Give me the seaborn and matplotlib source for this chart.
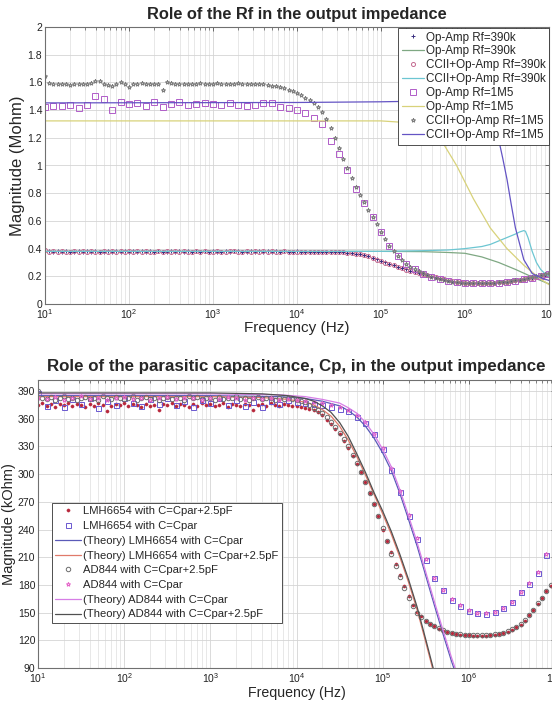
import numpy as np
import pandas as pd
import matplotlib
matplotlib.use("Agg")
import matplotlib.pyplot as plt
import matplotlib.ticker as mticker
import seaborn as sns

# ---------------- DATA: top chart (Mohm) ----------------
f20 = np.logspace(1, 7, 121)   # measurement sweep, 20 pts / decade
f10 = np.logspace(1, 7, 61)    # measurement sweep, 10 pts / decade

opamp390_pts = [
    0.385, 0.381, 0.378, 0.380, 0.377, 0.382, 0.379, 0.376, 0.381, 0.378,
    0.380, 0.377, 0.383, 0.379, 0.376, 0.381, 0.378, 0.382, 0.377, 0.380,
    0.379, 0.382, 0.376, 0.380, 0.378, 0.381, 0.377, 0.383, 0.379, 0.376,
    0.381, 0.378, 0.380, 0.377, 0.382, 0.379, 0.381, 0.376, 0.380, 0.378,
    0.382, 0.379, 0.377, 0.381, 0.378, 0.380, 0.383, 0.377, 0.379, 0.381,
    0.378, 0.380, 0.377, 0.382, 0.379, 0.381, 0.378, 0.380, 0.379, 0.378,
    0.380, 0.379, 0.378, 0.379, 0.378, 0.377, 0.377, 0.376, 0.375, 0.374,
    0.375, 0.373, 0.371, 0.368, 0.364, 0.359, 0.352, 0.344, 0.333, 0.322,
    0.311, 0.300, 0.290, 0.280, 0.270, 0.260, 0.250, 0.241, 0.232, 0.224,
    0.216, 0.208, 0.200, 0.192, 0.185, 0.178, 0.172, 0.166, 0.161, 0.157,
    0.154, 0.151, 0.150, 0.149, 0.149, 0.150, 0.151, 0.153, 0.155, 0.158,
    0.161, 0.165, 0.169, 0.174, 0.179, 0.185, 0.191, 0.197, 0.204, 0.211,
    0.218]

ccii390_pts = [
    0.392, 0.378, 0.381, 0.376, 0.380, 0.377, 0.379, 0.382, 0.376, 0.380,
    0.378, 0.381, 0.376, 0.379, 0.382, 0.377, 0.380, 0.376, 0.381, 0.378,
    0.380, 0.377, 0.381, 0.378, 0.382, 0.376, 0.379, 0.380, 0.377, 0.381,
    0.378, 0.380, 0.376, 0.381, 0.379, 0.377, 0.382, 0.378, 0.380, 0.377,
    0.379, 0.381, 0.378, 0.376, 0.380, 0.382, 0.377, 0.379, 0.381, 0.378,
    0.380, 0.377, 0.381, 0.378, 0.380, 0.379, 0.377, 0.380, 0.378, 0.379,
    0.379, 0.378, 0.379, 0.377, 0.378, 0.376, 0.376, 0.375, 0.374, 0.373,
    0.374, 0.372, 0.370, 0.367, 0.363, 0.358, 0.351, 0.343, 0.332, 0.321,
    0.310, 0.299, 0.289, 0.279, 0.269, 0.259, 0.249, 0.240, 0.231, 0.223,
    0.215, 0.207, 0.199, 0.192, 0.185, 0.178, 0.172, 0.167, 0.162, 0.158,
    0.155, 0.152, 0.150, 0.150, 0.149, 0.150, 0.152, 0.153, 0.156, 0.158,
    0.162, 0.165, 0.170, 0.174, 0.180, 0.185, 0.191, 0.198, 0.205, 0.212,
    0.220]

ccii1m5_pts = [
    1.645, 1.595, 1.588, 1.592, 1.585, 1.590, 1.583, 1.588, 1.592, 1.586,
    1.590, 1.594, 1.612, 1.608, 1.585, 1.580, 1.572, 1.590, 1.600, 1.592,
    1.566, 1.590, 1.588, 1.594, 1.586, 1.590, 1.592, 1.585, 1.545, 1.600,
    1.598, 1.590, 1.588, 1.592, 1.585, 1.590, 1.586, 1.593, 1.588, 1.591,
    1.590, 1.594, 1.588, 1.592, 1.586, 1.590, 1.593, 1.588, 1.591, 1.589,
    1.590, 1.588, 1.585, 1.582, 1.577, 1.572, 1.565, 1.557, 1.548, 1.537,
    1.524, 1.508, 1.490, 1.470, 1.448, 1.420, 1.383, 1.335, 1.270, 1.200,
    1.125, 1.050, 0.980, 0.910, 0.848, 0.790, 0.733, 0.680, 0.628, 0.575,
    0.522, 0.470, 0.422, 0.380, 0.345, 0.315, 0.290, 0.268, 0.250, 0.235,
    0.221, 0.208, 0.197, 0.188, 0.180, 0.173, 0.167, 0.162, 0.158, 0.155,
    0.152, 0.150, 0.149, 0.149, 0.149, 0.150, 0.151, 0.153, 0.156, 0.159,
    0.162, 0.166, 0.170, 0.175, 0.180, 0.186, 0.192, 0.199, 0.206, 0.213,
    0.221]

opamp1m5_sq = [
    1.420, 1.432, 1.428, 1.435, 1.418, 1.440, 1.502, 1.482, 1.398, 1.455,
    1.447, 1.452, 1.430, 1.458, 1.424, 1.445, 1.460, 1.438, 1.442, 1.450,
    1.447, 1.438, 1.452, 1.440, 1.432, 1.436, 1.448, 1.452, 1.425, 1.418,
    1.400, 1.378, 1.345, 1.300, 1.175, 1.080, 0.970, 0.830, 0.730, 0.630,
    0.520, 0.420, 0.350, 0.290, 0.250, 0.220, 0.195, 0.178, 0.166, 0.158,
    0.153, 0.150, 0.149, 0.151, 0.155, 0.161, 0.169, 0.178, 0.190, 0.204,
    0.219]

# theory / simulated curves (top)
f_green = 10 ** np.array([1.0, 5.0, 5.5, 5.8, 6.0, 6.2, 6.4, 6.6, 6.8, 7.0])
opamp390_line = [0.380, 0.380, 0.378, 0.372, 0.366, 0.340, 0.300, 0.250, 0.195, 0.145]

f_cyan = 10 ** np.array([1.0, 5.0, 5.5, 5.8, 6.0, 6.2, 6.3, 6.4, 6.5, 6.6, 6.65, 6.7,
                         6.72, 6.75, 6.8, 6.85, 6.9, 6.95, 7.0])
ccii390_line = [0.380, 0.380, 0.385, 0.390, 0.400, 0.415, 0.430, 0.455, 0.480, 0.505,
                0.520, 0.530, 0.525, 0.480, 0.380, 0.300, 0.250, 0.220, 0.200]

f_yellow = 10 ** np.array([1.0, 5.0, 5.3, 5.5, 5.7, 5.9, 6.1, 6.3, 6.5, 6.7, 6.9, 7.0])
opamp1m5_line = [1.322, 1.322, 1.310, 1.280, 1.200, 1.000, 0.760, 0.550, 0.400, 0.280,
                 0.180, 0.140]

f_violet = 10 ** np.array([1.0, 4.0, 5.0, 5.5, 6.0, 6.2, 6.3, 6.35, 6.4, 6.45, 6.5,
                           6.55, 6.6, 6.7, 6.8, 6.9, 7.0])
ccii1m5_line = [1.452, 1.455, 1.460, 1.465, 1.465, 1.450, 1.380, 1.300, 1.190, 1.050,
                0.900, 0.720, 0.550, 0.320, 0.220, 0.190, 0.170]

top_labels = ["Op-Amp Rf=390k", "Op-Amp Rf=390k", "CCII+Op-Amp Rf=390k",
              "CCII+Op-Amp Rf=390k", "Op-Amp Rf=1M5", "Op-Amp Rf=1M5",
              "CCII+Op-Amp Rf=1M5", "CCII+Op-Amp Rf=1M5"]

# ---------------- DATA: bottom chart (kOhm) ----------------
lmh_c25_dots = [
    375, 377, 374, 376, 373, 376, 375, 377, 374, 376,
    375, 373, 376, 374, 377, 375, 368, 374, 376, 375,
    377, 374, 376, 375, 373, 376, 374, 375, 369, 376,
    375, 377, 374, 376, 375, 373, 376, 374, 377, 375,
    376, 374, 375, 377, 373, 376, 375, 374, 376, 375,
    369, 375, 376, 374, 377, 375, 374, 376, 375, 374,
    374, 373, 372, 371, 370, 367, 364, 359, 354, 349,
    343, 336, 328, 320, 311, 302, 292, 280, 268, 255,
    240, 228, 216, 203, 191, 179, 168, 158, 151, 146,
    141, 138, 135, 132, 130, 129, 128, 127, 126, 126,
    125.5, 125, 125, 125, 125, 125.5, 126, 127, 128, 129,
    131, 134, 137, 141, 147, 153, 159, 166, 173, 179,
    186]

ad844_c25_circ = [
    390, 383, 381, 384, 380, 382, 385, 381, 383, 380,
    382, 384, 381, 383, 380, 385, 382, 381, 384, 382,
    381, 383, 385, 380, 382, 384, 381, 383, 380, 382,
    384, 381, 383, 382, 380, 385, 382, 384, 381, 383,
    382, 380, 384, 381, 383, 382, 385, 381, 383, 380,
    382, 384, 381, 383, 382, 380, 383, 381, 382, 381,
    380, 379, 378, 375, 372, 369, 366, 362, 357, 351,
    345, 338, 330, 321, 312, 302, 292, 280, 268, 255,
    242, 228, 214, 201, 189, 177, 166, 157, 150, 145,
    141, 138, 135, 133, 131, 129, 128, 127, 126.5, 126,
    126, 125.5, 125.5, 125.5, 126, 126, 126.5, 127, 128, 130,
    132, 134, 138, 142, 147, 153, 160, 166, 173, 180,
    187]

lmh_cpar_sq = [
    388, 374, 380, 373, 381, 376, 383, 372, 379, 375,
    382, 377, 374, 381, 376, 383, 375, 379, 373, 380,
    377, 382, 375, 380, 374, 378, 373, 379, 376, 380,
    378, 377, 376, 375, 373, 371, 368, 362, 355, 343,
    327, 305, 281, 255, 230, 207, 187, 174, 164, 157,
    152, 150, 149, 151, 155, 162, 172, 181, 193, 212,
    232]

ad844_cpar_star = [
    383, 381, 384, 380, 382, 385, 381, 383, 380, 382,
    384, 381, 383, 380, 382, 384, 381, 383, 382, 380,
    383, 381, 384, 382, 380, 383, 381, 382, 380, 381,
    380, 379, 378, 377, 375, 373, 370, 364, 356, 344,
    328, 307, 282, 256, 231, 208, 188, 175, 165, 158,
    153, 150, 149.5, 151, 155, 162, 172, 182, 194, 213,
    233]

f_th_cpar = 10 ** np.array([1.0, 3.0, 3.8, 4.1, 4.3, 4.5, 4.6, 4.7, 4.8, 4.9, 5.0,
                            5.1, 5.2, 5.3, 5.4, 5.5, 5.6, 5.7, 5.8, 5.9])
th_lmh_cpar = [385, 385, 384, 382, 379, 374, 369, 362, 352, 339, 323,
               304, 279, 251, 222, 190, 158, 127, 97, 70]
th_ad844_cpar = [387, 387, 386, 384, 381, 377, 372, 366, 356, 343, 327,
                 308, 283, 255, 226, 194, 162, 131, 101, 74]

f_th_c25 = 10 ** np.array([1.0, 3.0, 3.6, 3.9, 4.1, 4.2, 4.3, 4.4, 4.5, 4.6, 4.7,
                           4.8, 4.9, 5.0, 5.1, 5.2, 5.3, 5.4, 5.5, 5.6])
th_lmh_c25 = [384, 384, 383, 381, 378, 375, 370, 363, 352, 337, 319,
              299, 278, 257, 235, 210, 183, 153, 118, 82]
th_ad844_c25 = [388, 388, 387, 385, 382, 379, 374, 367, 356, 341, 322,
                302, 280, 260, 238, 213, 186, 156, 121, 85]

# ---------------- STYLE ----------------
sns.set_theme(style="white")
plt.rcParams['font.family'] = ['Liberation Sans', 'DejaVu Sans']
plt.rcParams['mathtext.fontset'] = 'custom'
plt.rcParams['mathtext.rm'] = 'Liberation Sans'
plt.rcParams['mathtext.it'] = 'Liberation Sans'

fig = plt.figure(figsize=(5.52, 7.05), dpi=100)
W, H = 552.0, 705.0
ax1 = fig.add_axes([45 / W, 1 - 304 / H, 504 / W, 277 / H])
ax2 = fig.add_axes([38 / W, 1 - 668 / H, 517 / W, 288 / H])


def marks(ax, x, y, label, marker, color, ms, filled=False, mew=0.7):
    sns.lineplot(x=x, y=y, ax=ax, label=label, color=color, marker=marker,
                 linestyle='', markersize=ms,
                 markerfacecolor=color if filled else 'none',
                 markeredgecolor=color, markeredgewidth=mew,
                 estimator=None, sort=False)


def curve(ax, x, y, label, color, lw=0.9):
    sns.lineplot(x=x, y=y, ax=ax, label=label, color=color, linewidth=lw,
                 estimator=None, sort=False)


# top chart
marks(ax1, f20, opamp390_pts, top_labels[0], '+', '#3a2f80', 3.0)
curve(ax1, f_green, opamp390_line, top_labels[1], '#7fa883')
marks(ax1, f20, ccii390_pts, top_labels[2], 'o', '#c46a90', 2.9)
curve(ax1, f_cyan, ccii390_line, top_labels[3], '#6cc6d2')
marks(ax1, f10, opamp1m5_sq, top_labels[4], 's', '#b05cc8', 3.7)
curve(ax1, f_yellow, opamp1m5_line, top_labels[5], '#d8d27a')
marks(ax1, f20, ccii1m5_pts, top_labels[6], '*', '#7c7c7c', 3.0)
curve(ax1, f_violet, ccii1m5_line, top_labels[7], '#6454c4')

# bottom chart
marks(ax2, f20, lmh_c25_dots, "LMH6654 with C=Cpar+2.5pF", 'o', '#b8283c', 2.3, filled=True, mew=0.3)
marks(ax2, f10, lmh_cpar_sq, "LMH6654 with C=Cpar", 's', '#6a58d0', 3.6)
curve(ax2, f_th_cpar, th_lmh_cpar, "(Theory) LMH6654 with C=Cpar", '#5a5ab8')
curve(ax2, f_th_c25, th_lmh_c25, "(Theory) LMH6654 with C=Cpar+2.5pF", '#e07a6a')
marks(ax2, f20, ad844_c25_circ, "AD844 with C=Cpar+2.5pF", 'o', '#6c6c6c', 3.2)
marks(ax2, f10, ad844_cpar_star, "AD844 with C=Cpar", '*', '#e462c8', 3.2)
curve(ax2, f_th_cpar, th_ad844_cpar, "(Theory) AD844 with C=Cpar", '#d67ee6')
curve(ax2, f_th_c25, th_ad844_c25, "(Theory) AD844 with C=Cpar+2.5pF", '#505050')

for ax in (ax1, ax2):
    ax.set_xscale('log')
    ax.set_xlim(10, 1e7)
    ax.xaxis.set_major_locator(mticker.LogLocator(base=10, numticks=10))
    ax.xaxis.set_minor_locator(mticker.LogLocator(base=10, subs=np.arange(2, 10), numticks=100))
    ax.xaxis.set_minor_formatter(mticker.NullFormatter())
    ax.grid(which='major', color='#d4d4d4', linewidth=0.6)
    ax.grid(which='minor', axis='x', color='#dedede', linewidth=0.5)
    ax.set_axisbelow(True)
    ax.tick_params(which='both', direction='in', top=True, right=True,
                   labelsize=7.5, colors='#555555', labelcolor='#222222', pad=2)
    ax.tick_params(which='major', length=3, width=0.6)
    ax.tick_params(which='minor', length=2, width=0.5)
    for s in ax.spines.values():
        s.set_color('#707070')
        s.set_linewidth(0.8)

ax1.set_xlabel("Frequency (Hz)", fontsize=11, labelpad=0)
ax2.set_xlabel("Frequency (Hz)", fontsize=10.2, labelpad=1)

ax1.set_ylim(0, 2)
ax1.set_yticks(np.arange(0, 2.01, 0.2))
ax1.yaxis.set_major_formatter(mticker.FuncFormatter(lambda v, p: f"{v:g}"))
ax1.set_ylabel("Magnitude (Mohm)", fontsize=12, labelpad=2)
ax1.set_title("Role of the Rf in the output impedance", fontsize=11.8,
              fontweight='bold', pad=6)

ax2.set_ylim(90, 402)
ax2.set_yticks(np.arange(90, 391, 30))
ax2.set_ylabel("Magnitude (kOhm)", fontsize=10.5, labelpad=1)
ax2.set_title("Role of the parasitic capacitance, Cp, in the output impedance",
              fontsize=12.2, fontweight='bold', pad=6.5)

leg1 = dict(fontsize=8.4, frameon=True, fancybox=False, framealpha=1,
            edgecolor='#333333', handlelength=1.9, handletextpad=0.15,
            borderpad=0.3, labelspacing=0.17, borderaxespad=0)
leg2 = dict(fontsize=8.1, frameon=True, fancybox=False, framealpha=1,
            edgecolor='#333333', handlelength=2.3, handletextpad=0.15,
            borderpad=0.3, labelspacing=0.42, borderaxespad=0)
l1 = ax1.legend(loc='upper right', bbox_to_anchor=(549 / W, 1 - 28 / H),
                bbox_transform=fig.transFigure, **leg1)
l2 = ax2.legend(loc='upper left', bbox_to_anchor=(52 / W, 1 - 503 / H),
                bbox_transform=fig.transFigure, **leg2)
for l in (l1, l2):
    l.get_frame().set_linewidth(0.6)

fig.savefig("out.png", dpi=100)
